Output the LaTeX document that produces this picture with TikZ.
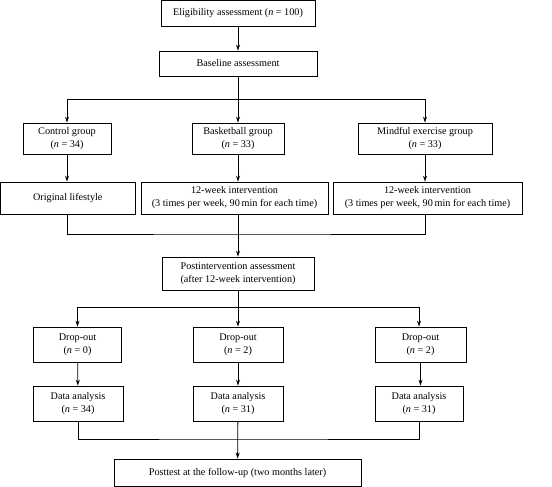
\documentclass[tikz,border=0pt]{standalone}
\usepackage{fontspec}
\setmainfont{Liberation Serif}
\usetikzlibrary{arrows.meta}
\tikzset{
	box/.style={draw,line width=0.8pt,align=center,inner sep=0pt,font=\fontsize{10.2}{13}\selectfont},
	link/.style={line width=0.8pt},
	arr/.style={link,-{Stealth[length=6pt,width=4pt]}}
}
\newcommand{\nn}{\textit{n}}
\begin{document}
\begin{tikzpicture}[x=1pt,y=-1pt]
			\useasboundingbox (0,0) rectangle (552,487);
			\draw (238,13.4) node [box,minimum width=154pt,minimum height=25.6pt] (elig) {Eligibility assessment (\nn{} = 100)};
			\draw (238,63.5) node [box,minimum width=158pt,minimum height=25pt] (base) {Baseline assessment};
			\draw (67,138.5) node [box,minimum width=88pt,minimum height=31pt] (ctrl) {Control group\\(\nn{} = 34)};
			\draw (238,138.5) node [box,minimum width=92pt,minimum height=31pt] (bask) {Basketball group\\(\nn{} = 33)};
			\draw (425,138.5) node [box,minimum width=134pt,minimum height=31pt] (mind) {Mindful exercise group\\(\nn{} = 33)};
			\draw (67.8,198) node [box,minimum width=134.5pt,minimum height=32pt] (orig) {Original lifestyle};
			\draw (234.5,198) node [box,minimum width=187pt,minimum height=32pt] (intb) {12-week intervention\\(3 times per week, 90\,min for each time)};
			\draw (427.5,198) node [box,minimum width=189pt,minimum height=32pt] (intm) {12-week intervention\\(3 times per week, 90\,min for each time)};
			\draw (238,273.5) node [box,minimum width=152pt,minimum height=33pt] (post) {Postintervention assessment\\(after 12-week intervention)};
			\draw (77.5,344.5) node [box,minimum width=88pt,minimum height=35pt] (dropc) {Drop-out\\(\nn{} = 0)};
			\draw (238,344.5) node [box,minimum width=90pt,minimum height=35pt] (dropb) {Drop-out\\(\nn{} = 2)};
			\draw (420.5,344.5) node [box,minimum width=91pt,minimum height=35pt] (dropm) {Drop-out\\(\nn{} = 2)};
			\draw (78,403.5) node [box,minimum width=90pt,minimum height=35pt] (datac) {Data analysis\\(\nn{} = 34)};
			\draw (238,403.5) node [box,minimum width=90pt,minimum height=35pt] (datab) {Data analysis\\(\nn{} = 31)};
			\draw (419,403.5) node [box,minimum width=88pt,minimum height=35pt] (datam) {Data analysis\\(\nn{} = 31)};
			\draw (237.5,472.5) node [box,minimum width=247pt,minimum height=27pt] (follow) {Posttest at the follow-up (two months later)};
			\coordinate (split1) at (238,99);
			\coordinate (join1) at (238,234);
			\coordinate (split2) at (238,307);
			\coordinate (join2) at (238,439);
			\path[arr]
				(elig) edge (base)
				(ctrl.south) edge (ctrl.south |- orig.north)
				(bask.south) edge (bask.south |- intb.north)
				(mind.south) edge (mind.south |- intm.north)
				(dropc) edge (datac)
				(dropb) edge (datab)
				(dropm.south) edge (dropm.south |- datam.north);
			\draw[link] (base) -- (split1);
			\draw[arr] (split1) -| (ctrl);
			\draw[arr] (split1) -- (bask);
			\draw[arr] (split1) -| (mind);
			\draw[link] (ctrl.south |- orig.south) |- (join1) -| (mind.south |- intm.south);
			\draw[arr] (bask.south |- intb.south) -- (post);
			\draw[arr] (split2) -| (dropc);
			\draw[arr] (post) -- (dropb);
			\draw[arr] (split2) -| (dropm.north -| datam.south);
			\draw[link] (datac) |- (join2) -| (datam);
			\draw[arr] (datab) -- (follow);
		\end{tikzpicture}
\end{document}
